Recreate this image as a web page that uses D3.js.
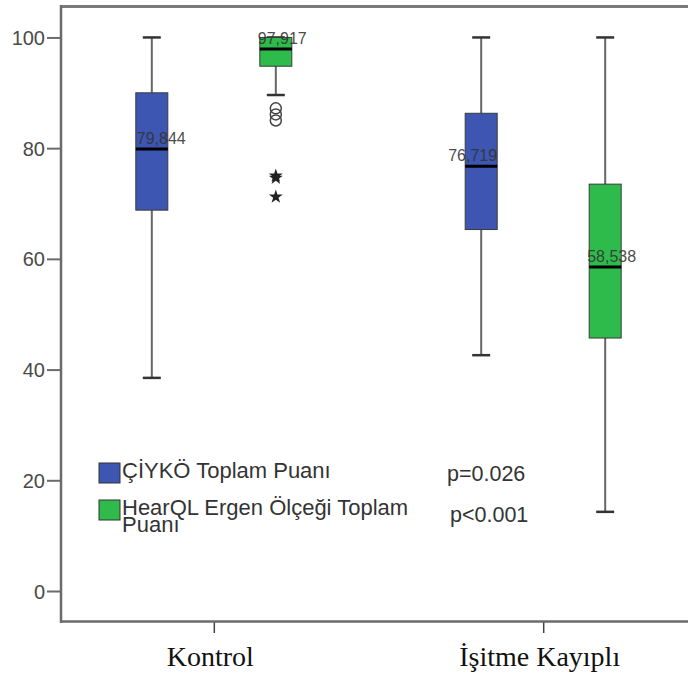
<!DOCTYPE html>
<html><head><meta charset="utf-8">
<script src="https://cdn.jsdelivr.net/npm/d3@7"></script>
<style>html,body{margin:0;padding:0;background:#fff;}svg{display:block;}</style>
</head><body>
<svg id="chart" width="688" height="675"></svg>
<script>
// ---- data ----
const groups = ["Kontrol", "İşitme Kayıplı"];
const series = ["ÇİYKÖ Toplam Puanı", "HearQL Ergen Ölçeği Toplam Puanı"];
const legendLines = [["ÇİYKÖ Toplam Puanı"], ["HearQL Ergen Ölçeği Toplam", "Puanı"]];
const pValues = ["p=0.026", "p<0.001"];
// per group: [ÇİYKÖ, HearQL]
const whiskerLow  = [[38.5, 89.6], [42.6, 14.3]];
const q1Values    = [[68.8, 94.8], [65.3, 45.7]];
const medians     = [[79.844, 97.917], [76.719, 58.538]];
const q3Values    = [[90.0, 100.0], [86.3, 73.5]];
const whiskerHigh = [[100, 100], [100, 100]];
const medianLabels = [["79,844", "97,917"], ["76,719", "58,538"]];
const outlierCircles = [87.2, 86.1, 85.0];   // Kontrol, HearQL
const extremeStars   = [75.0, 74.6, 71.2];   // Kontrol, HearQL
const yTicks = [0, 20, 40, 60, 80, 100];

// ---- layout / style ----
const colors = ["#3d56b2", "#2fbb4b"];
const boxW = 32, capW = 18;
const labelDx = [[1, -2], [-17, -2]];
const svg = d3.select("#chart");
const x = d3.scalePoint().domain(groups).range([59, 698]).padding(0.47);
const xs = d3.scalePoint().domain(series).range([-62, 62]);
const y = d3.scaleLinear().domain([-5.6, 105.5]).range([622, 7]);
const axisCol = "#6b6b6b";

// frame
svg.append("line").attr("x1", 61).attr("x2", 688).attr("y1", 6.5).attr("y2", 6.5)
  .attr("stroke", "#7a7a7a").attr("stroke-width", 3);

// y axis
const yAxis = svg.append("g").attr("transform", "translate(61,0)")
  .call(d3.axisLeft(y).tickValues(yTicks).tickSize(14).tickPadding(2).tickFormat(d3.format("d")));
yAxis.select(".domain").remove();
yAxis.selectAll(".tick line").attr("stroke", axisCol).attr("stroke-width", 2);
yAxis.selectAll(".tick text").attr("font-family", "Liberation Sans, Arial, sans-serif")
  .attr("font-size", 20).attr("fill", "#4a4a4a").attr("dy", "0.35em");
svg.append("line").attr("x1", 61).attr("x2", 61).attr("y1", 5).attr("y2", 623)
  .attr("stroke", axisCol).attr("stroke-width", 2.5);

// x axis
const xAxis = svg.append("g").attr("transform", "translate(0,622)")
  .call(d3.axisBottom(x).tickSize(11).tickPadding(13));
xAxis.select(".domain").remove();
xAxis.selectAll(".tick line").attr("stroke", "#444").attr("stroke-width", 1.5);
xAxis.selectAll(".tick text").attr("font-family", "Liberation Serif, Times New Roman, serif")
  .attr("font-size", 28).attr("fill", "#111").attr("dy", "0.71em").attr("dx", -4);
svg.append("line").attr("x1", 60).attr("x2", 688).attr("y1", 621.5).attr("y2", 621.5)
  .attr("stroke", axisCol).attr("stroke-width", 2.5);

// boxes
groups.forEach((g, gi) => {
  series.forEach((s, si) => {
    const cx = x(g) + xs(s);
    const gB = svg.append("g");
    gB.append("line").attr("x1", cx).attr("x2", cx)
      .attr("y1", y(whiskerHigh[gi][si])).attr("y2", y(q3Values[gi][si]))
      .attr("stroke", "#666").attr("stroke-width", 2);
    gB.append("line").attr("x1", cx).attr("x2", cx)
      .attr("y1", y(q1Values[gi][si])).attr("y2", y(whiskerLow[gi][si]))
      .attr("stroke", "#666").attr("stroke-width", 2);
    [whiskerHigh[gi][si], whiskerLow[gi][si]].forEach(v => {
      gB.append("line").attr("x1", cx - capW / 2).attr("x2", cx + capW / 2)
        .attr("y1", y(v)).attr("y2", y(v)).attr("stroke", "#333").attr("stroke-width", 2.5);
    });
    gB.append("rect").attr("x", cx - boxW / 2).attr("width", boxW)
      .attr("y", y(q3Values[gi][si])).attr("height", y(q1Values[gi][si]) - y(q3Values[gi][si]))
      .attr("fill", colors[si]).attr("stroke", "#3a3a3a").attr("stroke-width", 1);
    gB.append("line").attr("x1", cx - boxW / 2).attr("x2", cx + boxW / 2)
      .attr("y1", y(medians[gi][si])).attr("y2", y(medians[gi][si]))
      .attr("stroke", "#000").attr("stroke-width", 3);
    gB.append("text").attr("x", cx - boxW / 2 + labelDx[gi][si]).attr("y", y(medians[gi][si]) - 5)
      .attr("font-family", "Liberation Sans, Arial, sans-serif").attr("font-size", 16)
      .attr("fill", "#333").attr("fill-opacity", 0.9).text(medianLabels[gi][si]);
  });
});

// outliers (Kontrol, HearQL)
const ocx = x(groups[0]) + xs(series[1]);
svg.selectAll("circle.out").data(outlierCircles).enter().append("circle")
  .attr("cx", ocx).attr("cy", d => y(d)).attr("r", 5.5)
  .attr("fill", "none").attr("stroke", "#444").attr("stroke-width", 1.5);
svg.selectAll("path.star").data(extremeStars).enter().append("path")
  .attr("transform", d => `translate(${ocx},${y(d)})`)
  .attr("d", d3.symbol().type(d3.symbolStar).size(60))
  .attr("fill", "#222");

// legend
const legY = [463, 500];
series.forEach((s, si) => {
  svg.append("rect").attr("x", 99).attr("y", legY[si]).attr("width", 21).attr("height", 20)
    .attr("fill", colors[si]).attr("stroke", "#333").attr("stroke-width", 1);
  const t = svg.append("text").attr("font-family", "Liberation Sans, Arial, sans-serif")
    .attr("font-size", 22).attr("fill", "#333");
  legendLines[si].forEach((ln, li) => {
    t.append("tspan").attr("x", 122).attr("y", legY[si] + 15 + li * 16.5).text(ln);
  });
});
const pX = [447, 450], pY = [481, 522];
pValues.forEach((p, i) => {
  svg.append("text").attr("x", pX[i]).attr("y", pY[i])
    .attr("font-family", "Liberation Sans, Arial, sans-serif").attr("font-size", 21.5)
    .attr("fill", "#333").text(p);
});
</script>
</body></html>
